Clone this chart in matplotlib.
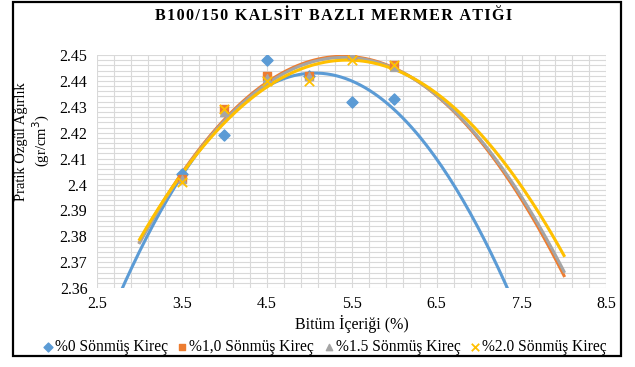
import numpy as np
import matplotlib
matplotlib.use("Agg")
from matplotlib import pyplot as plt
from matplotlib.ticker import FixedLocator, FuncFormatter

plt.rcParams['font.family'] = ['Liberation Serif', 'DejaVu Serif']

bitum = [3.5, 4.0, 4.5, 5.0, 5.5, 6.0]
kirec0 = [2.404, 2.419, 2.448, 2.442, 2.432, 2.433]
kirec10 = [2.402, 2.429, 2.442, 2.442, 2.450, 2.446]
kirec15 = [2.402, 2.428, 2.441, 2.442, 2.450, 2.4455]
kirec20 = [2.401, 2.429, 2.440, 2.440, 2.448, 2.446]
etiketler = ["%0 Sönmüş Kireç", "%1,0 Sönmüş Kireç", "%1.5 Sönmüş Kireç", "%2.0 Sönmüş Kireç"]
baslik = "B100/150 KALSİT BAZLI MERMER ATIĞI"

seriler = [kirec0, kirec10, kirec15, kirec20]
renkler = ['#5B9BD5', '#ED7D31', '#A5A5A5', '#FFC000']
markerlar = ['D', 's', '^', 'x']

fig = plt.figure(figsize=(6.35, 3.67), dpi=100)
ax = fig.add_axes([0.153, 0.215, 0.802, 0.635])

# trend cizgileri (2. derece polinom, geri 0.5/1, ileri 2 birim)
for y, c in zip(seriler, renkler):
    p = np.polyfit(bitum, y, 2)
    xs = np.linspace(2.5 if c == '#5B9BD5' else 3.0, 8.0, 200)
    ax.plot(xs, np.polyval(p, xs), color=c, lw=2.2, zorder=2)

for y, c, m, lab in zip(seriler, renkler, markerlar, etiketler):
    if m == 'x':
        ax.scatter(bitum, y, color=c, marker=m, s=45, lw=1.3, label=lab, zorder=3)
    else:
        ax.scatter(bitum, y, color=c, marker=m, s=32, label=lab, zorder=3)

ax.set_xlim(2.5, 8.5)
ax.set_ylim(2.36, 2.45)
ax.xaxis.set_major_locator(FixedLocator(np.arange(2.5, 8.51, 1.0)))
ax.xaxis.set_minor_locator(FixedLocator(np.arange(2.5, 8.51, 0.2)))
ax.yaxis.set_major_locator(FixedLocator(np.arange(2.36, 2.4501, 0.01)))
ax.yaxis.set_minor_locator(FixedLocator(np.arange(2.36, 2.4501, 0.002)))
ax.yaxis.set_major_formatter(FuncFormatter(lambda v, _: f"{v:.2f}".rstrip('0').rstrip('.')))
ax.xaxis.set_major_formatter(FuncFormatter(lambda v, _: f"{v:.1f}"))
ax.grid(which='both', color='#D9D9D9', lw=0.8)
ax.set_axisbelow(True)
for s in ax.spines.values():
    s.set_visible(False)
ax.tick_params(which='both', length=0, labelsize=11.5, pad=7)
ax.tick_params(axis='x', pad=6)

ax.set_xlabel("Bitüm İçeriği (%)", fontsize=11.5, labelpad=2)
ax.set_ylabel("Pratik Özgül Ağırlık\n(gr/cm$^3$)", fontsize=10.5)
ax.yaxis.set_label_coords(-0.088, 0.63)
fig.text(0.526, 0.956, "\u200a".join(baslik), ha='center', va='center',
         fontsize=11.5, fontweight='bold')

fig.legend(loc='center', bbox_to_anchor=(0.51, 0.054), ncol=4, frameon=False, fontsize=11.2,
           handletextpad=0.0, columnspacing=0.5, handlelength=0.9, markerscale=0.8)

border = plt.Rectangle((0.020, 0.030), 0.958, 0.965, transform=fig.transFigure,
                       fill=False, edgecolor='black', lw=1.6)
fig.add_artist(border)

plt.savefig("out.png", dpi=100)
